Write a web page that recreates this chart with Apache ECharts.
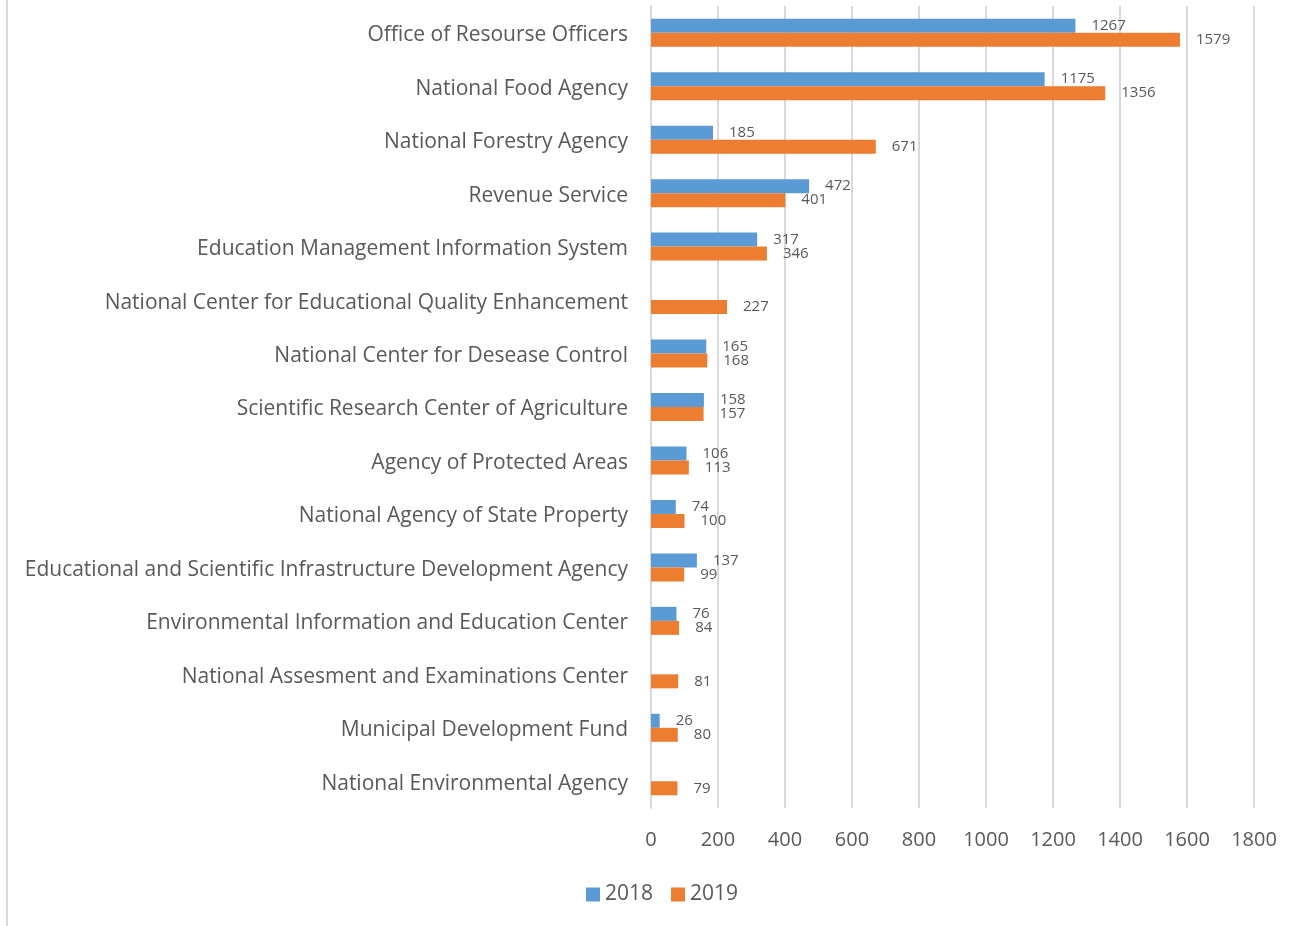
<!DOCTYPE html>
<html>
<head>
<meta charset="utf-8">
<script src="https://cdn.jsdelivr.net/npm/echarts@6/dist/echarts.min.js"></script>
<style>html,body{margin:0;padding:0;background:#fff}#c{width:1308px;height:926px}</style>
</head>
<body>
<div id="c"></div>
<script>
const categories = [
  "Office of Resourse Officers",
  "National Food Agency",
  "National Forestry Agency",
  "Revenue Service",
  "Education Management Information System",
  "National Center for Educational Quality Enhancement",
  "National Center for Desease Control",
  "Scientific Research Center of Agriculture",
  "Agency of Protected Areas",
  "National Agency of State Property",
  "Educational and Scientific Infrastructure Development Agency",
  "Environmental Information and Education Center",
  "National Assesment and Examinations Center",
  "Municipal Development Fund",
  "National Environmental Agency"
];
const values2018 = [1267, 1175, 185, 472, 317, null, 165, 158, 106, 74, 137, 76, null, 26, null];
const values2019 = [1579, 1356, 671, 401, 346, 227, 168, 157, 113, 100, 99, 84, 81, 80, 79];
const seriesNames = ["2018", "2019"];
const xTicks = { min: 0, max: 1800, interval: 200 };

const FONT = "Open Sans";
const TXT = "#595959";
const chart = echarts.init(document.getElementById('c'), null, { renderer: 'canvas' });
const lbl = { show: true, position: 'right', distance: 16, color: TXT, fontFamily: FONT, fontSize: 15 };
chart.setOption({
  animation: false,
  textStyle: { fontFamily: FONT },
  grid: { left: 651, right: 54, top: 6, bottom: 118, containLabel: false },
  legend: {
    data: seriesNames, bottom: 16, left: 581,
    itemWidth: 14, itemHeight: 14, itemGap: 18,
    textStyle: { color: TXT, fontFamily: FONT, fontSize: 21 },
    icon: 'rect'
  },
  xAxis: {
    type: 'value', min: xTicks.min, max: xTicks.max, interval: xTicks.interval,
    axisLine: { show: false }, axisTick: { show: false },
    axisLabel: { color: TXT, fontFamily: FONT, fontSize: 20, margin: 22, formatter: v => String(v) },
    splitLine: { show: true, lineStyle: { color: '#D9D9D9', width: 2 } }
  },
  yAxis: {
    type: 'category', data: categories, inverse: true,
    axisLine: { show: true, lineStyle: { color: '#D9D9D9', width: 2 } },
    axisTick: { show: false },
    axisLabel: {
      color: TXT, fontFamily: FONT, fontSize: 21, margin: 23,
      formatter: v => '{a|' + v + '}',
      rich: { a: { color: TXT, fontFamily: FONT, fontSize: 21, padding: [5, 0, 0, 0] } }
    }
  },
  series: [
    { name: seriesNames[0], type: 'bar', data: values2018, barWidth: 14, barGap: '0%',
      itemStyle: { color: '#5B9BD5' }, label: lbl },
    { name: seriesNames[1], type: 'bar', data: values2019, barWidth: 14, barGap: '0%',
      itemStyle: { color: '#ED7D31' }, label: lbl }
  ],
  graphic: [{ type: 'line', shape: { x1: 7, y1: 0, x2: 7, y2: 926 }, style: { stroke: '#D9D9D9', lineWidth: 2 } }]
});
</script>
</body>
</html>
